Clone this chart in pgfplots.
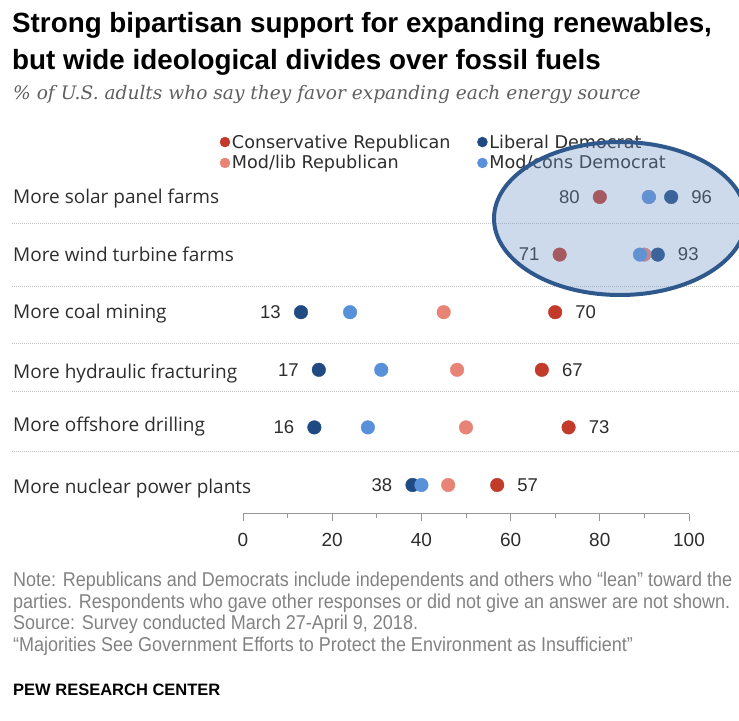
\documentclass[border=0pt]{standalone}
\usepackage{fontspec}
\setmainfont{Liberation Sans}
\newfontfamily\titlefont{Liberation Sans}
\newfontfamily\subfont{DejaVu Serif}
\newfontfamily\labfont{Open Sans}
\newfontfamily\legfont{DejaVu Sans}
\newfontfamily\notefont[FakeStretch=0.90]{Liberation Sans}
\newfontfamily\pewfont{Liberation Sans}
\usepackage{pgfplots}
\usepackage{pgfplotstable}
\pgfplotsset{compat=1.18}

\definecolor{crep}{RGB}{194,58,42}
\definecolor{mrep}{RGB}{232,132,118}
\definecolor{ldem}{RGB}{31,74,130}
\definecolor{mdem}{RGB}{88,145,218}
\definecolor{txt}{RGB}{45,45,45}
\definecolor{notegray}{RGB}{130,130,130}
\definecolor{subgray}{RGB}{95,95,95}
\definecolor{axisgray}{RGB}{150,150,150}
\definecolor{sepgray}{RGB}{195,195,195}
\definecolor{ell}{RGB}{47,88,140}
\definecolor{ellfill}{RGB}{112,149,201}

% y: 6 = solar, 5 = wind, 4 = coal, 3 = fracking, 2 = offshore, 1 = nuclear
\pgfplotstableread{
x y
80 6
71 5
70 4
67 3
73 2
57 1
}\consrep
\pgfplotstableread{
x y
91 6
90 5
45 4
48 3
50 2
46 1
}\modrep
\pgfplotstableread{
x y
96 6
93 5
13 4
17 3
16 2
38 1
}\libdem
\pgfplotstableread{
x y
91 6
89 5
24 4
31 3
28 2
40 1
}\moddem
% labelled extremes
\pgfplotstableread{
x y
80 6
71 5
13 4
17 3
16 2
38 1
}\leftlab
\pgfplotstableread{
x y
96 6
93 5
70 4
67 3
73 2
57 1
}\rightlab

\begin{document}
\begin{tikzpicture}
\useasboundingbox (0,0) rectangle (739bp,721bp);

% title and subtitle
\node[anchor=base west, inner sep=0pt] at (12bp,688bp)
  {\titlefont\bfseries\fontsize{27.8bp}{30bp}\selectfont Strong bipartisan support for expanding renewables,};
\node[anchor=base west, inner sep=0pt] at (12bp,651.7bp)
  {\titlefont\bfseries\fontsize{27.8bp}{30bp}\selectfont but wide ideological divides over fossil fuels};
\node[anchor=base west, inner sep=0pt, text=subgray] at (13bp,621bp)
  {\subfont\itshape\fontsize{18.6bp}{21bp}\selectfont \% of U.S. adults who say they favor expanding each energy source};

% separators
\foreach \yy in {497.7,434.3,377.7,330,269.3}{
  \draw[sepgray, line width=0.9bp, dash pattern=on 1bp off 1bp] (12bp,\yy bp) -- (739bp,\yy bp);
}

% row labels
\begin{scope}[every node/.style={anchor=base west, inner sep=0pt, text=txt, font=\labfont\fontsize{19bp}{21bp}\selectfont}]
\node at (13bp,517.7bp) {More solar panel farms};
\node at (13bp,459.3bp) {More wind turbine farms};
\node at (13bp,402.7bp) {More coal mining};
\node at (13bp,342.7bp) {More hydraulic fracturing};
\node at (13bp,289.3bp) {More offshore drilling};
\node at (13bp,227.7bp) {More nuclear power plants};
\end{scope}

\begin{axis}[
  at={(243bp,207.2bp)}, anchor=south west,
  scale only axis, width=446bp, height=345.6bp,
  xmin=0, xmax=100, ymin=0.5, ymax=6.5,
  clip=false,
  axis x line*=bottom, axis y line=none,
  x axis line style={-, draw=axisgray, line width=1bp},
  xtick={0,20,...,100}, minor xtick={10,30,...,90},
  tick align=outside, major tick length=7bp, minor tick length=4bp,
  every tick/.style={draw=axisgray, line width=1bp},
  /pgf/number format/assume math mode=true,
  xticklabel style={font=\fontsize{19bp}{21bp}\selectfont, text=txt, yshift=-9bp},
  legend columns=2,
  legend cell align=left,
  legend image code/.code={\draw[#1, mark size=5bp] plot coordinates {(5bp,0bp)};},
  legend style={at={(-0.0516,1.1)}, anchor=north west, draw=none, fill=none,
    inner sep=0pt, outer sep=0pt, row sep=4bp,
    font=\legfont\fontsize{17.6bp}{19bp}\selectfont, text=txt,
    nodes={inner sep=1bp},
    /tikz/every even column/.append style={column sep=26bp},
    /tikz/every odd column/.append style={column sep=1bp}},
]
\addplot[only marks, mark=*, mark size=6.8bp, mark options={draw=crep, fill=crep}] table[x=x,y=y] {\consrep};
\addlegendentry{Conservative Republican}
\addplot[only marks, mark=*, mark size=6.8bp, mark options={draw=ldem, fill=ldem}] table[x=x,y=y] {\libdem};
\addlegendentry{Liberal Democrat}
\addplot[only marks, mark=*, mark size=6.8bp, mark options={draw=mrep, fill=mrep}] table[x=x,y=y] {\modrep};
\addlegendentry{Mod/lib Republican}
\addplot[only marks, mark=*, mark size=6.8bp, mark options={draw=mdem, fill=mdem}] table[x=x,y=y] {\moddem};
\addlegendentry{Mod/cons Democrat}

\addplot[forget plot, only marks, mark=*, mark size=0pt, mark options={draw=none, fill=none},
  nodes near coords, point meta=x,
  nodes near coords style={anchor=east, xshift=-20bp, yshift=0bp, inner sep=0pt, text=txt,
    font=\fontsize{18.5bp}{20bp}\selectfont}] table[x=x,y=y] {\leftlab};
\addplot[forget plot, only marks, mark=*, mark size=0pt, mark options={draw=none, fill=none},
  nodes near coords, point meta=x,
  nodes near coords style={anchor=west, xshift=20bp, yshift=0bp, inner sep=0pt, text=txt,
    font=\fontsize{18.5bp}{20bp}\selectfont}] table[x=x,y=y] {\rightlab};
\end{axis}

% highlight ellipse
\begin{scope}
\clip (0,0) rectangle (739bp,721bp);
\filldraw[draw=ell, line width=4bp, fill=ellfill, fill opacity=0.35, draw opacity=1]
  (620bp,502.5bp) ellipse (126bp and 76.5bp);
\end{scope}

% notes
\begin{scope}[every node/.style={anchor=base west, inner sep=0pt, text=notegray, font=\notefont\fontsize{20bp}{22bp}\selectfont}]
\node at (13bp,134bp) {Note: Republicans and Democrats include independents and others who “lean” toward the};
\node at (13bp,112.5bp) {parties. Respondents who gave other responses or did not give an answer are not shown.};
\node at (13bp,91bp) {Source: Survey conducted March 27-April 9, 2018.};
\node at (13bp,69.5bp) {“Majorities See Government Efforts to Protect the Environment as Insufficient”};
\end{scope}
\node[anchor=base west, inner sep=0pt] at (13bp,26bp)
  {\pewfont\bfseries\fontsize{16.5bp}{19bp}\selectfont PEW RESEARCH CENTER};
\end{tikzpicture}
\end{document}
